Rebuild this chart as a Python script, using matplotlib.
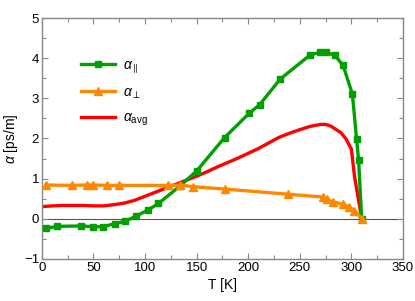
import matplotlib
matplotlib.use("Agg")
import matplotlib.pyplot as plt
from matplotlib.ticker import MultipleLocator

plt.rcParams['font.family'] = ['Liberation Sans', 'DejaVu Sans']
plt.rcParams['mathtext.fontset'] = 'custom'
plt.rcParams['mathtext.rm'] = 'Liberation Sans'
plt.rcParams['mathtext.it'] = 'Liberation Sans:italic'
plt.rcParams['mathtext.fallback'] = 'cm'

# alpha parallel (green squares)
T_par = [4, 15, 38, 50, 59, 71, 81, 91, 103, 113, 134, 150, 177, 201, 211, 231, 260, 270, 275, 284, 292, 301, 305, 307, 310]
a_par = [-0.24, -0.19, -0.18, -0.20, -0.20, -0.12, -0.06, 0.06, 0.22, 0.38, 0.82, 1.19, 2.02, 2.63, 2.84, 3.48, 4.08, 4.15, 4.15, 4.07, 3.82, 3.10, 1.99, 1.46, 0.0]

# alpha perpendicular (orange triangles)
T_perp = [4, 29, 44, 50, 63, 75, 122, 134, 146, 177, 239, 272, 276, 282, 292, 298, 303, 310]
a_perp = [0.84, 0.83, 0.84, 0.84, 0.83, 0.83, 0.83, 0.84, 0.80, 0.74, 0.61, 0.54, 0.48, 0.42, 0.36, 0.29, 0.20, 0.0]

# alpha average (red line)
T_avg = [0, 10, 20, 30, 40, 50, 60, 70, 80, 90, 100, 110, 120, 130, 140, 150, 160, 170, 180, 190, 200,
         210, 220, 230, 240, 250, 260, 270, 275, 280, 290, 295, 300, 303, 310]
a_avg = [0.30, 0.32, 0.33, 0.33, 0.33, 0.32, 0.32, 0.35, 0.39, 0.46, 0.56, 0.66, 0.76, 0.86, 0.96, 1.06,
         1.17, 1.29, 1.40, 1.51, 1.63, 1.75, 1.89, 2.03, 2.13, 2.22, 2.30, 2.35, 2.35, 2.31, 2.14, 1.98,
         1.73, 1.06, 0.0]

fig = plt.figure(figsize=(4.15, 3.01), dpi=100)
ax = fig.add_axes([0.101, 0.140, 0.870, 0.800])

ax.axhline(0, color='#555555', lw=0.8, zorder=1)

green = '#00a000'
orange = '#ff8800'
red = '#ff0000'

ax.plot(T_par, a_par, color=green, lw=2.4, marker='s', ms=5, mec=green, label=r'$\alpha_{\parallel}$', zorder=3)
ax.plot(T_perp, a_perp, color=orange, lw=2.4, marker='^', ms=5.5, mec=orange, label=r'$\alpha_{\perp}$', zorder=3)
ax.plot(T_avg, a_avg, color=red, lw=2.4, label=r'$\alpha_{\rm avg}$', zorder=2)

ax.set_xlim(0, 350)
ax.set_ylim(-1, 5)
ax.xaxis.set_major_locator(MultipleLocator(50))
ax.xaxis.set_minor_locator(MultipleLocator(25))
ax.yaxis.set_major_locator(MultipleLocator(1))
ax.yaxis.set_minor_locator(MultipleLocator(0.5))
ax.tick_params(which='both', direction='in', top=True, right=True, color='#888888', labelsize=9.5, pad=2)
ax.tick_params(which='major', length=4.5, width=0.8)
ax.tick_params(which='minor', length=3, width=0.8)
for s in ax.spines.values():
    s.set_color('#888888')
    s.set_linewidth(1.0)

ax.set_xlabel('T [K]', fontsize=10, labelpad=3)
ax.set_ylabel(r'$\alpha$ [ps/m]', fontsize=10, labelpad=3)

leg = ax.legend(loc='upper left', bbox_to_anchor=(0.09, 0.865), frameon=False, fontsize=10,
                handlelength=2.4, handletextpad=0.6, labelspacing=0.75, borderpad=0)

fig.savefig('out.png', dpi=100)
